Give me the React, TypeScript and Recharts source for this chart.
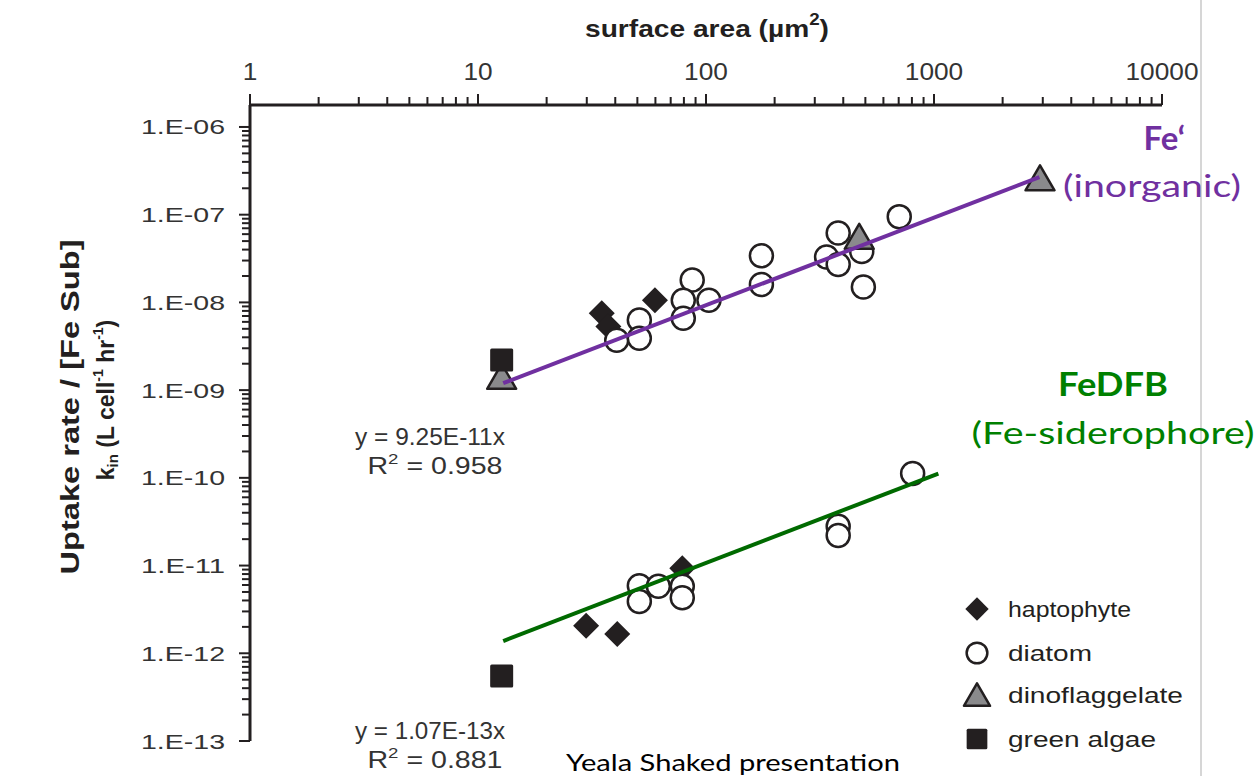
import React from "react";
import { ScatterChart, Scatter, XAxis, YAxis } from "recharts";

const W = 1256;
const H = 776;

// surface area (um2) vs uptake rate / [Fe sub]
const feHaptophyte = [
  { x: 34.9, y: 7.5e-9 },
  { x: 37.3, y: 5.3e-9 },
  { x: 59.7, y: 1.06e-8 },
];
const feDiatom = [
  { x: 40.6, y: 3.7e-9 },
  { x: 51, y: 6.3e-9 },
  { x: 51, y: 3.9e-9 },
  { x: 87, y: 1.8e-8 },
  { x: 79.5, y: 1.06e-8 },
  { x: 79.5, y: 6.6e-9 },
  { x: 103, y: 1.06e-8 },
  { x: 175, y: 3.4e-8 },
  { x: 175, y: 1.6e-8 },
  { x: 380, y: 6.2e-8 },
  { x: 338, y: 3.3e-8 },
  { x: 380, y: 2.7e-8 },
  { x: 482, y: 3.8e-8 },
  { x: 490, y: 1.5e-8 },
  { x: 704, y: 9.5e-8 },
];
const feDino = [
  { x: 12.7, y: 1.42e-9 },
  { x: 470, y: 5.6e-8 },
  { x: 2917, y: 2.6e-7 },
];
const feGreen = [{ x: 12.7, y: 2.2e-9 }];
const feFit = [
  { x: 12.9, y: 1.2e-9 },
  { x: 2900, y: 2.68e-7 },
];

const dfbHaptophyte = [
  { x: 29.8, y: 2.06e-12 },
  { x: 40.8, y: 1.66e-12 },
  { x: 78.7, y: 9.3e-12 },
];
const dfbDiatom = [
  { x: 51, y: 5.9e-12 },
  { x: 51, y: 3.9e-12 },
  { x: 61.8, y: 5.8e-12 },
  { x: 78.7, y: 5.8e-12 },
  { x: 78.7, y: 4.3e-12 },
  { x: 380, y: 2.8e-11 },
  { x: 380, y: 2.2e-11 },
  { x: 806, y: 1.12e-10 },
];
const dfbGreen = [{ x: 12.7, y: 5.5e-13 }];
const dfbFit = [
  { x: 12.9, y: 1.38e-12 },
  { x: 1045, y: 1.12e-10 },
];

const xMajor = [1, 10, 100, 1000, 10000];
const xTickLabels = ["1", "10", "100", "1000", "10000"];
const yMajor = [1e-13, 1e-12, 1e-11, 1e-10, 1e-9, 1e-8, 1e-7, 1e-6];
const yTickLabels = ["1.E-13", "1.E-12", "1.E-11", "1.E-10", "1.E-09", "1.E-08", "1.E-07", "1.E-06"];
const minorSteps = [2, 3, 4, 5, 6, 7, 8, 9];

const xTicks = [...xMajor, ...xMajor.slice(0, -1).flatMap((d) => minorSteps.map((m) => m * d))];
const yTicks = [...yMajor, ...yMajor.slice(0, -1).flatMap((d) => minorSteps.map((m) => m * d))];

const INK = "#231f20";
const PURPLE = "#7030a0";
const GREEN = "#008000";
const ARIAL = "'Liberation Sans', Arial, Helvetica, sans-serif";
const CAL = "Lato, 'Open Sans', sans-serif";

const findMajor = (arr: number[], v: number) => arr.findIndex((m) => Math.abs(m - v) / m < 1e-9);

const XTick = (props: any) => {
  const { x, y, payload } = props;
  const i = findMajor(xMajor, payload.value);
  const major = i >= 0;
  const lbl = major ? xTickLabels[i] : "";
  return (
    <g>
      <line x1={x} x2={x} y1={y} y2={y - (major ? 11 : 8)} stroke={INK} strokeWidth={2} />
      {major && (
        <text
          x={x}
          y={y - 34}
          textAnchor="middle"
          dominantBaseline="central"
          fontFamily={ARIAL}
          fontSize={24}
          fill="#333"
          textLength={lbl.length * 14.6}
          lengthAdjust="spacingAndGlyphs"
        >
          {lbl}
        </text>
      )}
    </g>
  );
};

const YTick = (props: any) => {
  const { x, y, payload } = props;
  const i = findMajor(yMajor, payload.value);
  const major = i >= 0;
  return (
    <g>
      <line x1={x} x2={x - (major ? 11 : 8)} y1={y} y2={y} stroke={INK} strokeWidth={2} />
      {major && (
        <text
          x={x - 25}
          y={y}
          textAnchor="end"
          dominantBaseline="central"
          fontFamily={ARIAL}
          fontSize={21}
          fill="#333"
          textLength={84}
          lengthAdjust="spacingAndGlyphs"
        >
          {yTickLabels[i]}
        </text>
      )}
    </g>
  );
};

const Diamond = ({ cx, cy, s = 1 }: any) => (
  <path
    d={`M${cx},${cy - 13 * s} L${cx + 13 * s},${cy} L${cx},${cy + 13 * s} L${cx - 13 * s},${cy} Z`}
    fill={INK}
  />
);
const Ring = ({ cx, cy, s = 1 }: any) => (
  <circle cx={cx} cy={cy} r={11.5 * s} fill="#fff" stroke={INK} strokeWidth={2.5} />
);
const Tri = ({ cx, cy, s = 1 }: any) => (
  <path
    d={`M${cx},${cy - 13 * s} L${cx + 14.5 * s},${cy + 12 * s} L${cx - 14.5 * s},${cy + 12 * s} Z`}
    fill="#8a8a8c"
    stroke={INK}
    strokeWidth={2.5}
    strokeLinejoin="round"
  />
);
const Square = ({ cx, cy, s = 1 }: any) => (
  <rect x={cx - 11.5 * s} y={cy - 11.5 * s} width={23 * s} height={23 * s} rx={1.5} fill={INK} />
);
const NoDot = () => <g />;

const legendRows = [
  { label: "haptophyte", Shape: Diamond, y: 609, len: 123 },
  { label: "diatom", Shape: Ring, y: 653, len: 84 },
  { label: "dinoflaggelate", Shape: Tri, y: 695, len: 175 },
  { label: "green algae", Shape: Square, y: 739, len: 148 },
];

export default function App() {
  return (
    <div style={{ position: "absolute", left: 0, top: 0, width: W, height: H, background: "#fff" }}>
      <ScatterChart width={W} height={H} margin={{ top: 45, right: 94, bottom: 35, left: 150 }}>
        <XAxis
          xAxisId={0}
          dataKey="x"
          type="number"
          scale="log"
          orientation="top"
          domain={[1, 10000]}
          allowDataOverflow
          ticks={xTicks}
          interval={0}
          height={60}
          tickSize={0}
          tickMargin={0}
          tick={<XTick />}
          axisLine={{ stroke: INK, strokeWidth: 3 }}
          tickLine={false}
        />
        <YAxis
          yAxisId={0}
          dataKey="y"
          type="number"
          scale="log"
          domain={[1e-13, 1.78e-6]}
          allowDataOverflow
          ticks={yTicks}
          interval={0}
          width={100}
          tickSize={0}
          tickMargin={0}
          tick={<YTick />}
          axisLine={{ stroke: INK, strokeWidth: 3 }}
          tickLine={false}
        />
        <Scatter data={feHaptophyte} shape={Diamond} isAnimationActive={false} />
        <Scatter data={feDiatom} shape={Ring} isAnimationActive={false} />
        <Scatter data={feDino} shape={Tri} isAnimationActive={false} />
        <Scatter data={feGreen} shape={Square} isAnimationActive={false} />
        <Scatter data={dfbHaptophyte} shape={Diamond} isAnimationActive={false} />
        <Scatter data={dfbDiatom} shape={Ring} isAnimationActive={false} />
        <Scatter data={dfbGreen} shape={Square} isAnimationActive={false} />
        <Scatter
          data={feFit}
          shape={NoDot}
          line={{ stroke: PURPLE, strokeWidth: 4 }}
          legendType="none"
          isAnimationActive={false}
        />
        <Scatter
          data={dfbFit}
          shape={NoDot}
          line={{ stroke: "#006a00", strokeWidth: 4 }}
          legendType="none"
          isAnimationActive={false}
        />
      </ScatterChart>

      <svg width={W} height={H} style={{ position: "absolute", left: 0, top: 0, pointerEvents: "none" }}>
        <line x1={1201} x2={1201} y1={0} y2={H} stroke="#c8c8c8" strokeWidth={1.5} />

        <text
          x={707}
          y={28}
          textAnchor="middle"
          dominantBaseline="central"
          fontFamily={ARIAL}
          fontWeight="bold"
          fontSize={24}
          fill={INK}
          textLength={244}
          lengthAdjust="spacingAndGlyphs"
        >
          surface area (µm<tspan dy={-9} fontSize={16}>2</tspan>
          <tspan dy={9}>)</tspan>
        </text>

        <text
          x={70}
          y={407}
          transform="rotate(-90, 70, 407)"
          textAnchor="middle"
          dominantBaseline="central"
          fontFamily={ARIAL}
          fontWeight="bold"
          fontSize={25}
          fill={INK}
          textLength={335}
          lengthAdjust="spacingAndGlyphs"
        >
          Uptake rate / [Fe Sub]
        </text>
        <text
          x={106}
          y={400}
          transform="rotate(-90, 106, 400)"
          textAnchor="middle"
          dominantBaseline="central"
          fontFamily={ARIAL}
          fontWeight="bold"
          fontSize={23}
          fill={INK}
        >
          k<tspan dy={6} fontSize={15}>in</tspan>
          <tspan dy={-6}> (L cell</tspan>
          <tspan dy={-8} fontSize={14}>-1</tspan>
          <tspan dy={8}> hr</tspan>
          <tspan dy={-8} fontSize={14}>-1</tspan>
          <tspan dy={8}>)</tspan>
        </text>

        <text x={430} y={437} textAnchor="middle" dominantBaseline="central" fontFamily={ARIAL} fontSize={23} fill="#333" textLength={150} lengthAdjust="spacingAndGlyphs">
          y = 9.25E-11x
        </text>
        <text x={435} y={466} textAnchor="middle" dominantBaseline="central" fontFamily={ARIAL} fontSize={23} fill="#333" textLength={135} lengthAdjust="spacingAndGlyphs">
          R<tspan dy={-8} fontSize={15}>2</tspan>
          <tspan dy={8}> = 0.958</tspan>
        </text>
        <text x={430} y={731} textAnchor="middle" dominantBaseline="central" fontFamily={ARIAL} fontSize={23} fill="#333" textLength={150} lengthAdjust="spacingAndGlyphs">
          y = 1.07E-13x
        </text>
        <text x={435} y={760} textAnchor="middle" dominantBaseline="central" fontFamily={ARIAL} fontSize={23} fill="#333" textLength={135} lengthAdjust="spacingAndGlyphs">
          R<tspan dy={-8} fontSize={15}>2</tspan>
          <tspan dy={8}> = 0.881</tspan>
        </text>

        <text x={733} y={761} textAnchor="middle" dominantBaseline="central" fontFamily={CAL} fontSize={24} fill="#000" textLength={334} lengthAdjust="spacingAndGlyphs">
          Yeala Shaked presentation
        </text>

        <text x={1185} y={137} textAnchor="end" dominantBaseline="central" fontFamily={CAL} fontWeight="bold" fontSize={33} fill={PURPLE}>
          Fe‘
        </text>
        <text x={1152} y={185} textAnchor="middle" dominantBaseline="central" fontFamily={CAL} fontSize={31} fill={PURPLE} textLength={178} lengthAdjust="spacingAndGlyphs">
          (inorganic)
        </text>
        <text x={1113} y={383} textAnchor="middle" dominantBaseline="central" fontFamily={CAL} fontWeight="bold" fontSize={32} fill={GREEN} textLength={110} lengthAdjust="spacingAndGlyphs">
          FeDFB
        </text>
        <text x={1113} y={432} textAnchor="middle" dominantBaseline="central" fontFamily={CAL} fontSize={31} fill={GREEN} textLength={283} lengthAdjust="spacingAndGlyphs">
          (Fe-siderophore)
        </text>

        {legendRows.map(({ label, Shape, y, len }) => (
          <g key={label}>
            <Shape cx={977} cy={y} s={0.9} />
            <text x={1008} y={y} dominantBaseline="central" fontFamily={ARIAL} fontSize={22} fill={INK} textLength={len} lengthAdjust="spacingAndGlyphs">
              {label}
            </text>
          </g>
        ))}
      </svg>
    </div>
  );
}
